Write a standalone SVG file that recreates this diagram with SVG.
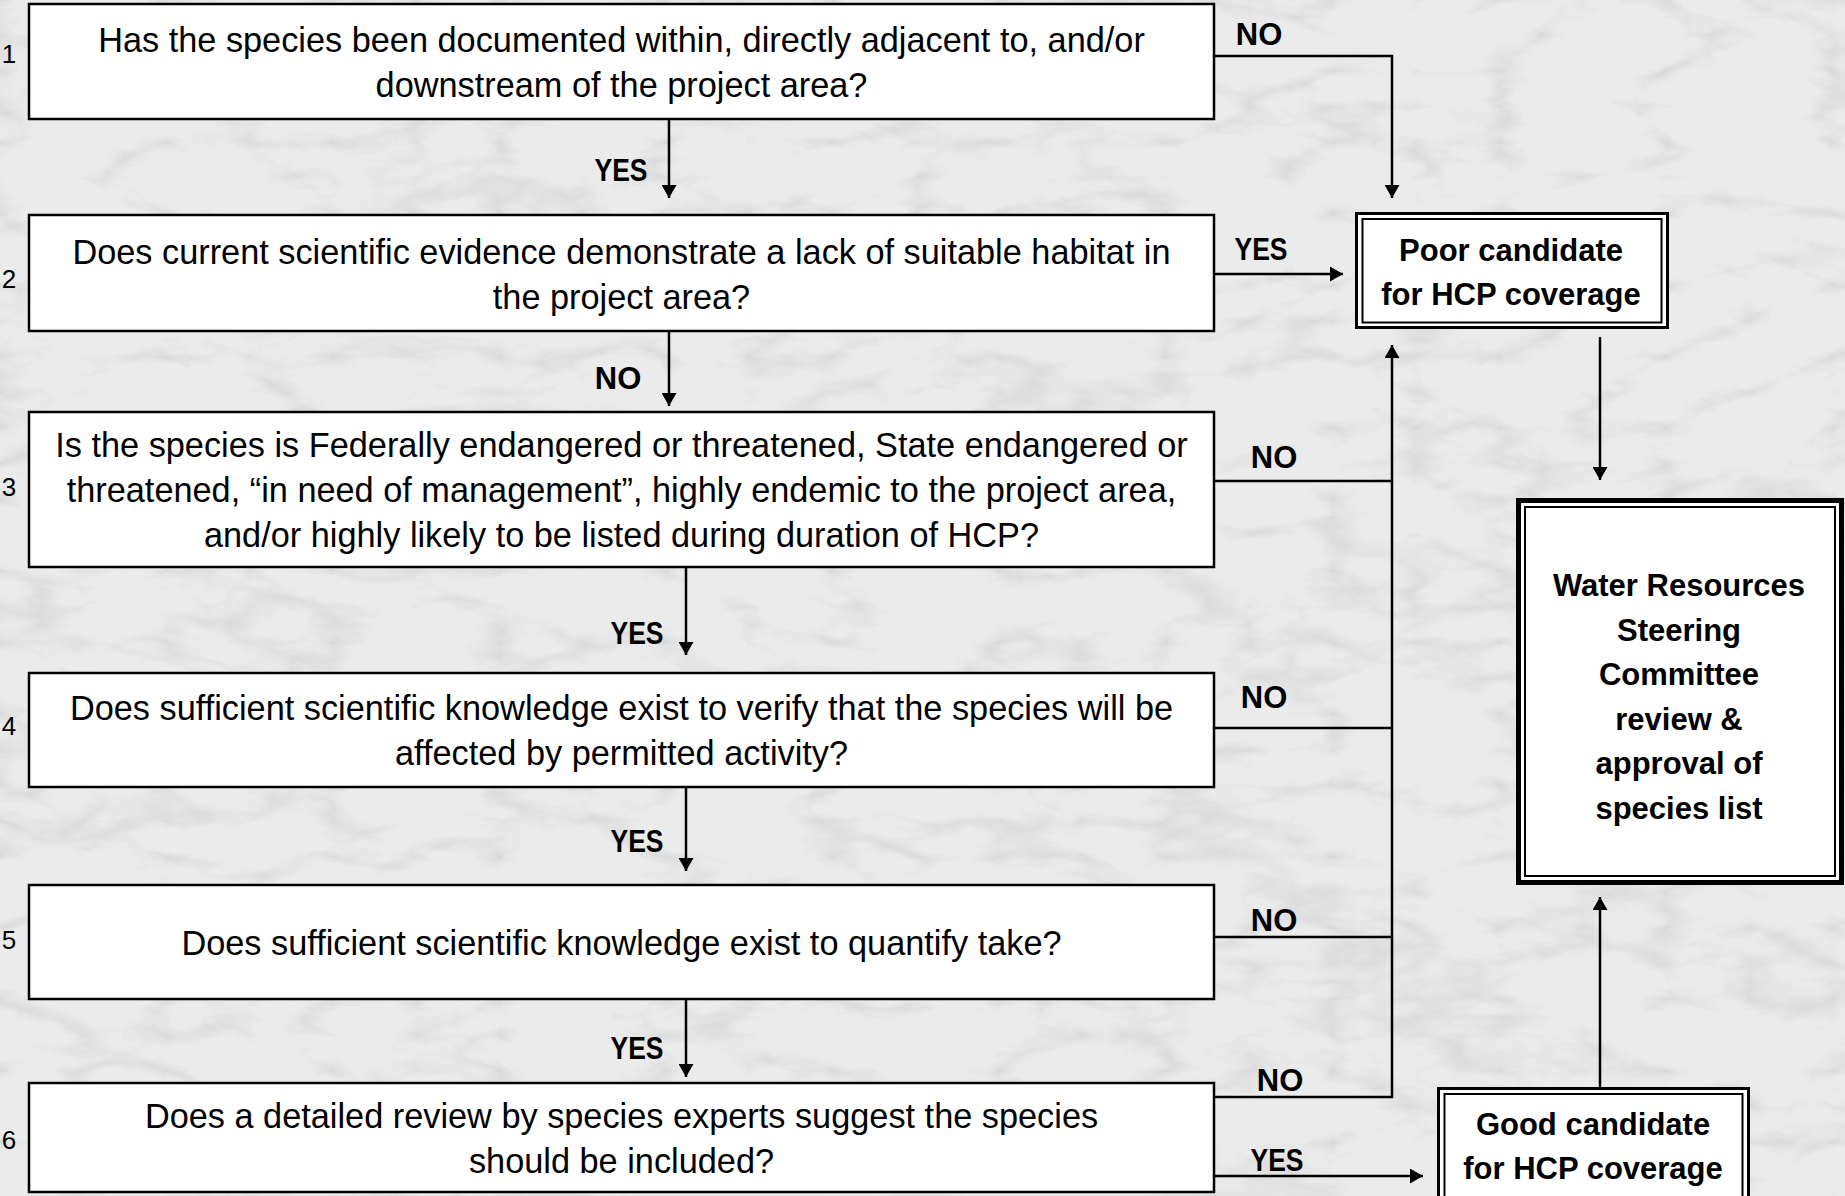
<svg xmlns="http://www.w3.org/2000/svg" width="1845" height="1196" viewBox="0 0 1845 1196">
<defs>
<style>
.q{fill:#fff;stroke:#000;stroke-width:2.5}
.t{font-family:"Liberation Sans",Arial,sans-serif;font-size:34.3px;fill:#000;text-anchor:middle}
.n{font-family:"Liberation Sans",Arial,sans-serif;font-size:26px;fill:#000;text-anchor:middle}
.b{font-family:"Liberation Sans",Arial,sans-serif;font-size:31px;font-weight:bold;fill:#000;text-anchor:middle}
.c{fill:none;stroke:#000;stroke-width:2.5}
.o{fill:#fff;stroke:#000;stroke-width:3}
.i{fill:none;stroke:#000;stroke-width:2}
</style>
<marker id="ah" markerUnits="userSpaceOnUse" markerWidth="15" markerHeight="15" viewBox="0 0 13 15" refX="13" refY="7.5" orient="auto">
<path d="M0,0 L13,7.5 L0,15 Z" fill="#000"/>
</marker>
<filter id="marble" x="0" y="0" width="100%" height="100%" filterUnits="userSpaceOnUse">
<feTurbulence type="turbulence" baseFrequency="0.006 0.014" numOctaves="5" seed="7"/>
<feColorMatrix type="matrix" values="0 0 0 0 0.55 0 0 0 0 0.55 0 0 0 0 0.56 -1.6 0 0 0 0.45"/>
</filter>
</defs>
<g id="background">
<rect x="0" y="0" width="1845" height="1196" fill="#ebebeb"/>
<rect x="0" y="0" width="1845" height="1196" fill="#ebebeb" filter="url(#marble)"/>
</g>
<g id="numbers">
<text class="n" x="9" y="63">1</text>
<text class="n" x="9" y="288">2</text>
<text class="n" x="9" y="496">3</text>
<text class="n" x="9" y="735">4</text>
<text class="n" x="9" y="949">5</text>
<text class="n" x="9" y="1149">6</text>
</g>
<g id="connectors">
<polyline class="c" points="1214,56 1392,56 1392,198" marker-end="url(#ah)"/>
<line class="c" x1="669" y1="119" x2="669" y2="198" marker-end="url(#ah)"/>
<line class="c" x1="1214" y1="274" x2="1343" y2="274" marker-end="url(#ah)"/>
<line class="c" x1="669" y1="331" x2="669" y2="406" marker-end="url(#ah)"/>
<line class="c" x1="686" y1="567" x2="686" y2="655" marker-end="url(#ah)"/>
<line class="c" x1="686" y1="787" x2="686" y2="871" marker-end="url(#ah)"/>
<line class="c" x1="686" y1="999" x2="686" y2="1077" marker-end="url(#ah)"/>
<line class="c" x1="1214" y1="481" x2="1392" y2="481"/>
<line class="c" x1="1214" y1="728" x2="1392" y2="728"/>
<line class="c" x1="1214" y1="937" x2="1392" y2="937"/>
<polyline class="c" points="1214,1097 1392,1097 1392,345" marker-end="url(#ah)"/>
<line class="c" x1="1214" y1="1176" x2="1423" y2="1176" marker-end="url(#ah)"/>
<line class="c" x1="1600" y1="337" x2="1600" y2="480" marker-end="url(#ah)"/>
<line class="c" x1="1600" y1="1087" x2="1600" y2="897" marker-end="url(#ah)"/>
</g>
<g id="labels">
<text class="b" x="621" y="181" textLength="53" lengthAdjust="spacingAndGlyphs">YES</text>
<text class="b" x="618" y="389">NO</text>
<text class="b" x="637" y="644" textLength="53" lengthAdjust="spacingAndGlyphs">YES</text>
<text class="b" x="637" y="852" textLength="53" lengthAdjust="spacingAndGlyphs">YES</text>
<text class="b" x="637" y="1059" textLength="53" lengthAdjust="spacingAndGlyphs">YES</text>
<text class="b" x="1259" y="45">NO</text>
<text class="b" x="1261" y="260" textLength="53" lengthAdjust="spacingAndGlyphs">YES</text>
<text class="b" x="1274" y="468">NO</text>
<text class="b" x="1264" y="708">NO</text>
<text class="b" x="1274" y="931">NO</text>
<text class="b" x="1280" y="1091">NO</text>
<text class="b" x="1277" y="1171" textLength="53" lengthAdjust="spacingAndGlyphs">YES</text>
</g>
<g id="q1">
<rect class="q" x="29" y="4" width="1185" height="115"/>
<text class="t" x="621.5" y="52">Has the species been documented within, directly adjacent to, and/or</text>
<text class="t" x="621.5" y="97">downstream of the project area?</text>
</g>
<g id="q2">
<rect class="q" x="29" y="215" width="1185" height="116"/>
<text class="t" x="621.5" y="264">Does current scientific evidence demonstrate a lack of suitable habitat in</text>
<text class="t" x="621.5" y="309">the project area?</text>
</g>
<g id="q3">
<rect class="q" x="29" y="412" width="1185" height="155"/>
<text class="t" x="621.5" y="457">Is the species is Federally endangered or threatened, State endangered or</text>
<text class="t" x="621.5" y="502">threatened, “in need of management”, highly endemic to the project area,</text>
<text class="t" x="621.5" y="547">and/or highly likely to be listed during duration of HCP?</text>
</g>
<g id="q4">
<rect class="q" x="29" y="673" width="1185" height="114"/>
<text class="t" x="621.5" y="720">Does sufficient scientific knowledge exist to verify that the species will be</text>
<text class="t" x="621.5" y="765">affected by permitted activity?</text>
</g>
<g id="q5">
<rect class="q" x="29" y="885" width="1185" height="114"/>
<text class="t" x="621.5" y="955">Does sufficient scientific knowledge exist to quantify take?</text>
</g>
<g id="q6">
<rect class="q" x="29" y="1083" width="1185" height="109"/>
<text class="t" x="621.5" y="1128">Does a detailed review by species experts suggest the species</text>
<text class="t" x="621.5" y="1173">should be included?</text>
</g>
<g id="poor">
<rect class="o" x="1356.5" y="213.5" width="311" height="114"/>
<rect class="i" x="1362.5" y="219" width="299" height="103.5"/>
<text class="b" x="1511" y="261">Poor candidate</text>
<text class="b" x="1511" y="305">for HCP coverage</text>
</g>
<g id="water">
<rect x="1518.5" y="500.5" width="323" height="382" fill="#fff" stroke="#000" stroke-width="5"/>
<rect class="i" x="1525" y="507" width="310" height="369"/>
<text class="b" x="1679" y="596">Water Resources</text>
<text class="b" x="1679" y="641">Steering</text>
<text class="b" x="1679" y="685">Committee</text>
<text class="b" x="1679" y="730">review &amp;</text>
<text class="b" x="1679" y="774">approval of</text>
<text class="b" x="1679" y="819">species list</text>
</g>
<g id="good">
<rect class="o" x="1438.5" y="1088.5" width="310" height="140"/>
<rect class="i" x="1444.5" y="1094" width="298" height="140"/>
<text class="b" x="1593" y="1135">Good candidate</text>
<text class="b" x="1593" y="1179">for HCP coverage</text>
</g>
</svg>
